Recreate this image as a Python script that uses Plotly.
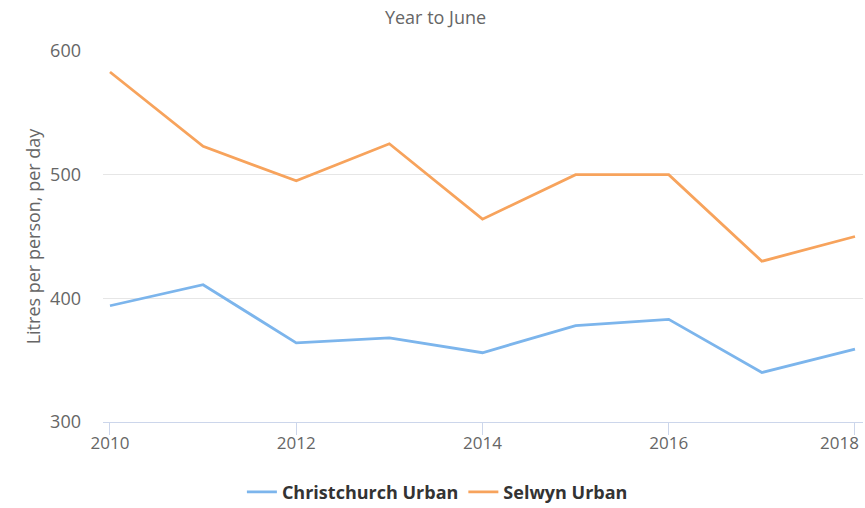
import plotly.graph_objects as go

years = [2010, 2011, 2012, 2013, 2014, 2015, 2016, 2017, 2018]
christchurch = [394, 411, 364, 368, 356, 378, 383, 340, 359]
selwyn = [583, 523, 495, 525, 464, 500, 500, 430, 450]
x_ticks = [2010, 2012, 2014, 2016, 2018]
x_tick_labels = ["2010", "2012", "2014", "2016", "2018"]

FONT = "Open Sans, DejaVu Sans, sans-serif"

fig = go.Figure()
fig.add_trace(go.Scatter(x=years, y=christchurch, mode="lines", name="Christchurch Urban",
                         line=dict(color="#7cb5ec", width=2.8)))
fig.add_trace(go.Scatter(x=years, y=selwyn, mode="lines", name="Selwyn Urban",
                         line=dict(color="#f7a35c", width=2.8)))

# last tick label is justified inside the chart edge (drawn as annotation)
shown_labels = x_tick_labels[:-1] + [""]
fig.add_annotation(x=x_ticks[-1], y=0, xref="x", yref="paper", text=x_tick_labels[-1],
                   showarrow=False, xanchor="right", yanchor="top", xshift=6, yshift=-7,
                   font=dict(size=17, color="#666666", family=FONT))

fig.update_layout(
    width=865, height=508,
    margin=dict(l=103, r=2, t=51, b=86, autoexpand=False),
    paper_bgcolor="white", plot_bgcolor="white",
    font=dict(family=FONT, color="#666666", size=17),
    title=dict(text="Year to June", x=0.5035, xanchor="center", y=1 - 18 / 508, yanchor="middle",
               font=dict(size=18, color="#666666")),
    showlegend=True,
    legend=dict(orientation="h", x=0.44, xanchor="center",
                y=-0.189, yanchor="middle",
                font=dict(size=18, color="#333333", family=FONT, weight="bold")),
    xaxis=dict(range=[2009.925, 2018.086], tickmode="array", tickvals=x_ticks, ticktext=shown_labels,
               ticks="outside", ticklen=12, tickcolor="#ccd6eb", showline=True, linecolor="#ccd6eb",
               linewidth=1, showgrid=False, zeroline=False, ticklabelstandoff=-6,
               tickfont=dict(size=17, color="#666666")),
    yaxis=dict(range=[300, 600], dtick=100, showgrid=True, gridcolor="#e6e6e6", zeroline=False,
               showline=False, ticks="", tickfont=dict(size=18, color="#666666"),
               ticklabelstandoff=21,
               title=dict(text="Litres per person, per day", font=dict(size=18, color="#666666"),
                          standoff=4)),
)

fig.write_html("out.html", config={"displayModeBar": False},
               post_script="document.body.style.margin='0px';")
